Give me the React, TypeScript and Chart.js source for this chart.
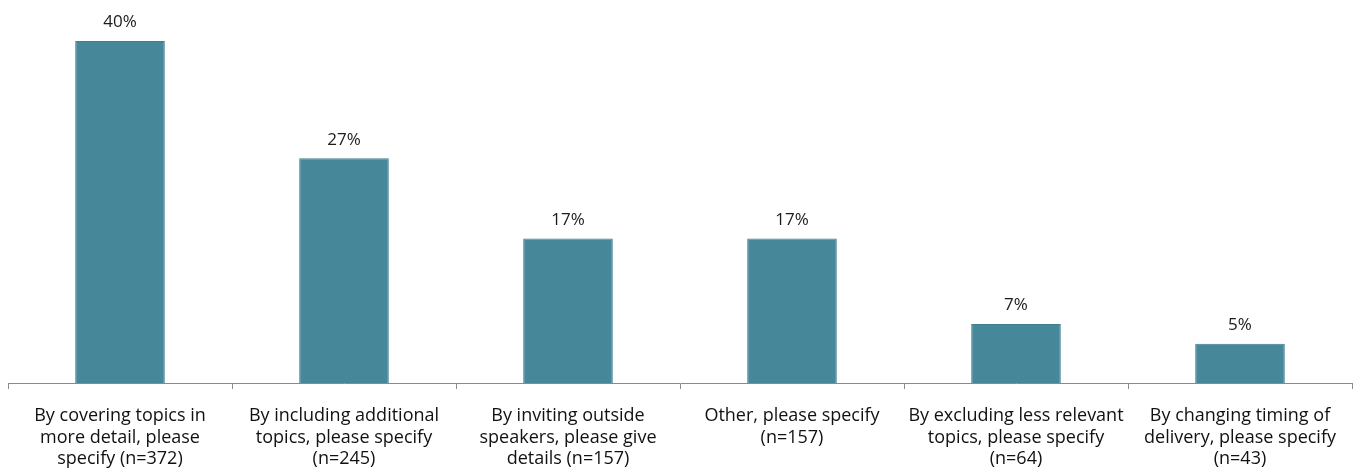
import React, { useEffect, useRef } from "react";
import { Chart, registerables } from "chart.js";

Chart.register(...registerables);

const categories: string[][] = [
  ["By covering topics in", "more detail, please", "specify (n=372)"],
  ["By including additional", "topics, please specify", "(n=245)"],
  ["By inviting outside", "speakers, please give", "details (n=157)"],
  ["Other, please specify", "(n=157)"],
  ["By excluding less relevant", "topics, please specify", "(n=64)"],
  ["By changing timing of", "delivery, please specify", "(n=43)"],
];
const values: number[] = [40.0, 26.3, 16.9, 16.9, 6.9, 4.6];
const valueLabels: string[] = ["40%", "27%", "17%", "17%", "7%", "5%"];

const FONT = "'Open Sans', Lato, sans-serif";

const labelPlugin = {
  id: "valueLabels",
  afterDatasetsDraw(chart: any) {
    const { ctx } = chart;
    const meta = chart.getDatasetMeta(0);
    ctx.save();
    ctx.font = `17px ${FONT}`;
    ctx.fillStyle = "#1a1a1a";
    ctx.textAlign = "center";
    ctx.textBaseline = "bottom";
    meta.data.forEach((bar: any, i: number) => {
      ctx.fillText(valueLabels[i], bar.x, bar.y - 10);
    });
    ctx.restore();
  },
};

export default function App() {
  const ref = useRef<HTMLCanvasElement>(null);
  useEffect(() => {
    if (!ref.current) return;
    const chart = new Chart(ref.current, {
      type: "bar",
      data: {
        labels: categories,
        datasets: [
          {
            data: values,
            backgroundColor: "#46889A",
            borderColor: "#3E7F8F",
            borderWidth: 1,
            categoryPercentage: 1,
            barPercentage: 0.4,
          },
        ],
      },
      options: {
        responsive: false,
        animation: false,
        maintainAspectRatio: false,
        layout: { padding: { left: 8, right: 1, top: 0, bottom: 0 } },
        plugins: { legend: { display: false }, tooltip: { enabled: false } },
        scales: {
          x: {
            afterFit: (scale: any) => {
              scale.height = 90;
            },
            border: { display: true, color: "#8a8a8a", width: 1 },
            grid: {
              display: true,
              drawOnChartArea: false,
              drawTicks: true,
              tickLength: 6,
              color: "#8a8a8a",
              offset: true,
            },
            ticks: {
              color: "#111111",
              font: { family: FONT, size: 18, lineHeight: 1.2 },
              padding: 16,
              maxRotation: 0,
              autoSkip: false,
            },
          },
          y: {
            display: false,
            min: 0,
            max: 44.8,
          },
        },
      },
      plugins: [labelPlugin],
    });
    return () => chart.destroy();
  }, []);
  return (
    <div style={{ position: "absolute", left: 0, top: 0, width: 1353, height: 473, background: "#fff" }}>
      <canvas ref={ref} width={1353} height={473} style={{ width: 1353, height: 473 }} />
    </div>
  );
}
